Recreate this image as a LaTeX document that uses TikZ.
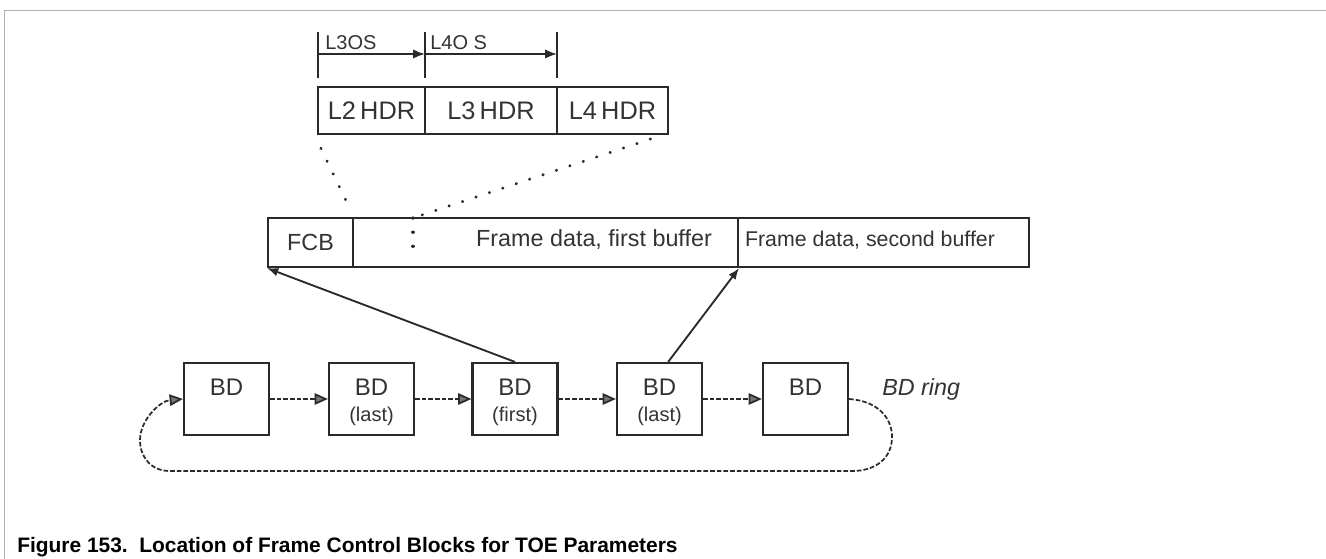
\documentclass[tikz,border=0pt]{standalone}
\usepackage{fontspec}
\setmainfont{Liberation Sans}
\usetikzlibrary{arrows.meta}
\definecolor{lc}{HTML}{2A2A2A}
\definecolor{tc}{HTML}{333333}
\definecolor{fc}{HTML}{B0B0B0}
\begin{document}
\begin{tikzpicture}[x=0.75pt,y=-0.75pt,
  box/.style={draw=lc,line width=1.6pt,inner sep=0pt,minimum height=#1},
  box/.default=36pt,
  bdbox/.style={draw=lc,line width=1.6pt,inner sep=0pt,minimum width=63.75pt,minimum height=54pt},
  lbl/.style={text=tc,inner sep=0pt,font=\fontsize{17.5}{17.5}\selectfont},
  bdlbl/.style={text=tc,inner sep=0pt,font=\fontsize{18}{18}\selectfont},
  sublbl/.style={text=tc,inner sep=0pt,font=\fontsize{15}{15}\selectfont},
  hdrlbl/.style={text=tc,inner sep=0pt,font=\fontsize{19}{19}\selectfont},
  oslbl/.style={text=tc,inner sep=0pt,anchor=west,font=\fontsize{15}{15}\selectfont},
  tick/.style={draw=lc,line width=1.4pt},
  meas/.style={draw=lc,line width=1.3pt,-{Latex[length=9pt,width=7pt]}},
  ptr/.style={draw=lc,line width=1.4pt,-{Latex[length=8.5pt,width=6.5pt]}},
  dots/.style={draw=lc,line width=2.4pt,line cap=round,dash pattern=on 0.1pt off 10.5pt},
  nxt/.style={draw=lc,line width=1.3pt,dash pattern=on 3.5pt off 1.5pt,-{Triangle[length=10pt,width=8.5pt,fill=lc!65]}},
  ring/.style={draw=lc,line width=1.3pt,dash pattern=on 3.5pt off 1.5pt}
]
\useasboundingbox (0,0) rectangle (1326,559);
% frame lines
\draw[fc,line width=1.2pt] (4.5,559) -- (4.5,10.5) -- (1326,10.5);

% header measurement ticks
\coordinate (t1a) at (318,32); \coordinate (t1b) at (318,78);
\coordinate (t2a) at (425,32); \coordinate (t2b) at (425,78);
\coordinate (t3a) at (557,32); \coordinate (t3b) at (557,78);
\draw[tick] (t1a) -- (t1b);
\draw[tick] (t2a) -- (t2b);
\draw[tick] (t3a) -- (t3b);
\coordinate (m1) at (318,54); \coordinate (m2) at (425,54); \coordinate (m3) at (557,54);
\draw[meas] (m1) -- (m2);
\draw[meas] (m2) -- (m3);
\node[oslbl] (l3os) at (325,43) {L3OS};
\node[oslbl] (l4os) at (430,43) {L4O S};

% header boxes
\node[box=35.25pt,minimum width=80.25pt] (l2) at (371.5,110.5) {};
\node[box=35.25pt,minimum width=99pt] (l3) at (491,110.5) {};
\node[box=35.25pt,minimum width=83.25pt] (l4) at (612.5,110.5) {};
\node[hdrlbl] (l2t) at (l2.center) {L2\,HDR};
\node[hdrlbl] (l3t) at (l3.center) {L3\,HDR};
\node[hdrlbl] (l4t) at (l4.center) {L4\,HDR};

% frame buffers
\node[box=36.75pt,minimum width=63.75pt] (fcb) at (310.5,242.5) {};
\node[box=36.75pt,minimum width=288.75pt] (buf1) at (545.5,242.5) {};
\node[box=36.75pt,minimum width=218.25pt] (buf2) at (883.5,242.5) {};
\node[lbl] (fcbt) at (fcb.center) {FCB};
\node[lbl] (buf1t) at (594,240) {Frame data, first buffer};
\node[lbl,font=\fontsize{16}{16}\selectfont] (buf2t) at (870,240) {Frame data, second buffer};

% dotted expansion lines
\coordinate (d1) at (413,218);
\coordinate (d2) at (413,256);
\draw[dots] ([xshift=3pt,yshift=-10pt]l2.south west) -- ([xshift=-4pt,yshift=8pt]fcb.north east);
\draw[dots] ([xshift=-14pt,yshift=-3pt]l4.south east) -- (d1);
\draw[dots] (d1) -- (d2);

% BD ring
\node[bdbox] (b1) at (226.5,399) {};
\node[bdbox] (b2) at (371.5,399) {};
\node[bdbox] (b3) at (515,399) {};
\node[bdbox] (b4) at (659.5,399) {};
\node[bdbox] (b5) at (805.5,399) {};
\node[bdlbl] (b1t) at ([yshift=8.5pt]b1.center) {BD};
\node[bdlbl] (b2t) at ([yshift=8.5pt]b2.center) {BD};
\node[bdlbl] (b3t) at ([yshift=8.5pt]b3.center) {BD};
\node[bdlbl] (b4t) at ([yshift=8.5pt]b4.center) {BD};
\node[bdlbl] (b5t) at ([yshift=8.5pt]b5.center) {BD};
\node[sublbl] (b2s) at ([yshift=-13pt]b2.center) {(last)};
\node[sublbl] (b3s) at ([yshift=-13pt]b3.center) {(first)};
\node[sublbl] (b4s) at ([yshift=-13pt]b4.center) {(last)};
\node[text=tc,inner sep=0pt,anchor=west,font=\fontsize{17.5}{17.5}\selectfont\itshape] (ringt) at (882,389) {BD ring};

\draw[nxt] (b1.east) -- (b2.west);
\draw[nxt] (b2.east) -- (b3.west);
\draw[nxt] (b3.east) -- (b4.west);
\draw[nxt] (b4.east) -- (b5.west);
\draw[ring,-{Triangle[length=10pt,width=8.5pt,fill=lc!65]}] (b5.east) .. controls (878,401) and (892,418) .. (892,437)
  .. controls (892,458) and (876,471) .. (852,471) -- (170,471)
  .. controls (150,471) and (140,456) .. (140,440)
  .. controls (140,420) and (160,401) .. (b1.west);

% pointers
\draw[ptr] (b3.north) -- (fcb.south west);
\draw[ptr] ([xshift=6.5pt]b4.north) -- (buf1.south east);

% caption
\node[anchor=base west,inner sep=0pt,text=black,font=\fontsize{15.7}{15.7}\selectfont\bfseries] (cap) at (17,552) {Figure 153.\ \ Location of Frame Control Blocks for TOE Parameters};
\end{tikzpicture}
\end{document}
